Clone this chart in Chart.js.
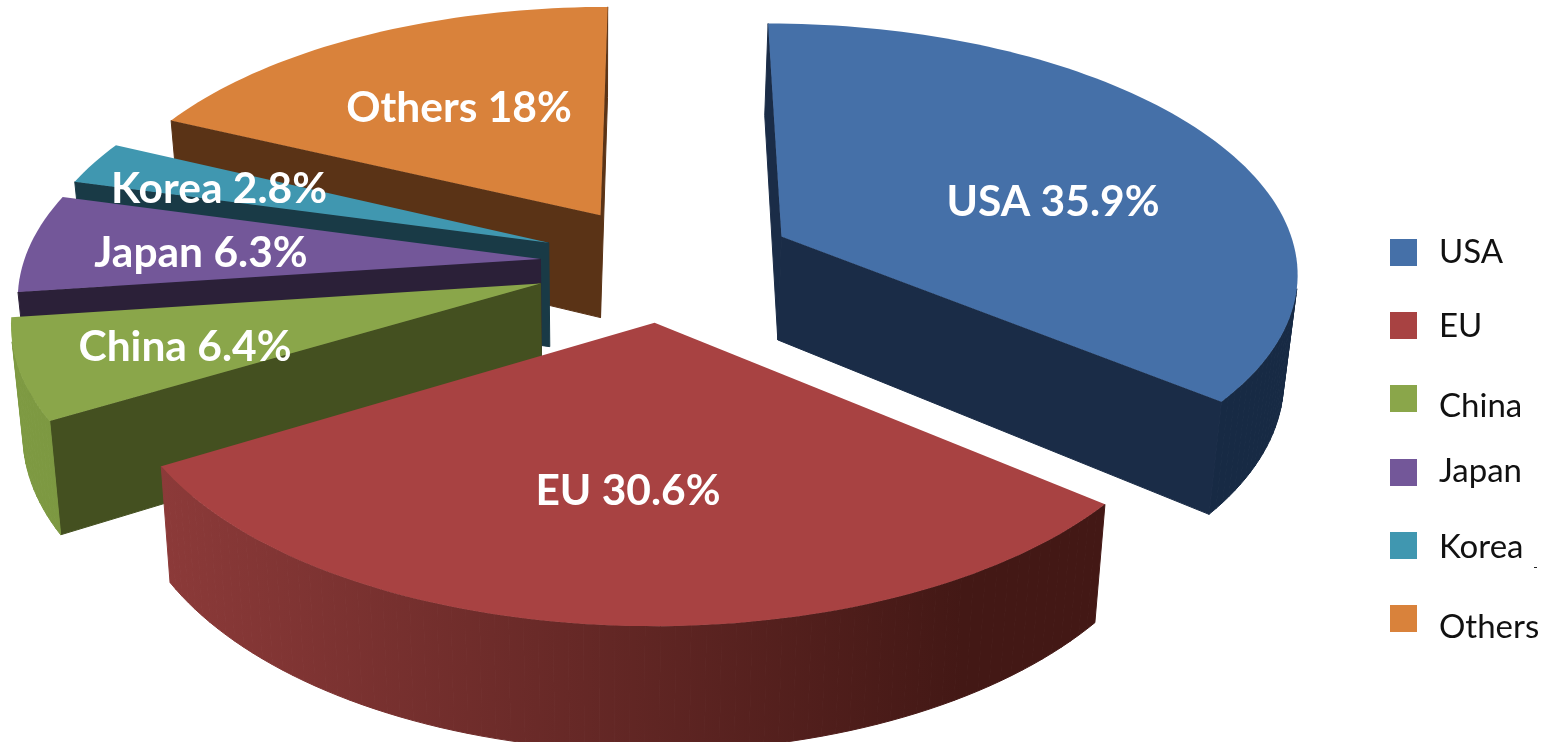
<!DOCTYPE html>
<html><head><meta charset="utf-8">
<style>html,body{margin:0;padding:0;background:#fff}canvas{display:block}</style>
<script src="https://cdn.jsdelivr.net/npm/chart.js@4"></script>
</head><body>
<canvas id="c" width="1547" height="742"></canvas>
<script>
const categories = ['USA','EU','China','Japan','Korea','Others'];
const shares = [35.9,30.6,6.4,6.3,2.8,18];
const sliceLabels = ['USA 35.9%','EU 30.6%','China 6.4%','Japan 6.3%','Korea 2.8%','Others 18%'];
const topColors = ['#4570A8','#A84242','#8AA64A','#735799','#4097B0','#D9823B'];
const rimLeft  = ['#1B2F4C','#8C3A39','#7E9A42','#2D2140','#1A3B47','#5A3316'];
const rimRight = ['#172A44','#431815','#6F8A3A','#261B36','#163A45','#55300F'];
const cutColors = ['#1A2C47','#6A2A28','#445020','#2B2038','#193A46','#5A3316'];
const explodeBy = [255,235,250,240,240,235];

const labelCenters = [[1053,202],[628,491],[185,347],[201,253],[219,189],[459,108]];
const swatchTop = [239,312,385,459,532,605];
const legendBaseline = [263,337,417,482,558,638];

const P = {cx:664, cy:263, A:517, B:247, p:0.13, depth:105, taper:0.98, taperX:600};
function project(u,v){
  const s = 1/(1-P.p*v);
  return {x:P.cx+P.A*u*s, y:P.cy+P.B*v*s, s};
}
function lower(pt){
  return {x:P.taperX+(pt.x-P.taperX)*P.taper, y:pt.y+P.depth*pt.s};
}
function outline(arc){
  const off=arc.options.offset/1000, mid=(arc.startAngle+arc.endAngle)/2;
  const ox=Math.cos(mid)*off, oy=Math.sin(mid)*off;
  const pts=[project(ox,oy)];
  const n=Math.max(8,Math.ceil((arc.endAngle-arc.startAngle)*40));
  for(let i=0;i<=n;i++){
    const a=arc.startAngle+(arc.endAngle-arc.startAngle)*i/n;
    pts.push(project(ox+Math.cos(a),oy+Math.sin(a)));
  }
  return pts;
}
function poly(ctx,pts){ctx.beginPath();pts.forEach((p,i)=>i?ctx.lineTo(p.x,p.y):ctx.moveTo(p.x,p.y));ctx.closePath();}
function area(pts){let s=0;pts.forEach((p,i)=>{const q=pts[(i+1)%pts.length];s+=p.x*q.y-q.x*p.y;});return s;}

const pie3d = {
  id:'pie3d',
  beforeDatasetsDraw(chart){
    const ctx=chart.ctx, arcs=chart.getDatasetMeta(0).data;
    const order=arcs.map((a,i)=>i).sort((i,j)=>{
      const mi=(arcs[i].startAngle+arcs[i].endAngle)/2, mj=(arcs[j].startAngle+arcs[j].endAngle)/2;
      return Math.sin(mi)-Math.sin(mj);
    });
    for(const i of order){
      const pts=outline(arcs[i]);
      const xs=pts.map(p=>p.x), x0=Math.min(...xs), x1=Math.max(...xs);
      const g=ctx.createLinearGradient(x0,0,x1,0);
      g.addColorStop(0,rimLeft[i]); g.addColorStop(.85,rimRight[i]); g.addColorStop(1,rimRight[i]);
      ctx.lineWidth=1;
      const last=pts.length-1;
      for(let k=0;k<pts.length;k++){
        const a=pts[k], b=pts[(k+1)%pts.length];
        const quad=[a,b,lower(b),lower(a)];
        if(area(quad)>=0) continue;
        const isCut=(k===0||k===last);
        ctx.fillStyle=ctx.strokeStyle=isCut?cutColors[i]:g;
        poly(ctx,quad); ctx.fill(); ctx.stroke();
      }
      poly(ctx,pts); ctx.fillStyle=topColors[i]; ctx.fill();
    }
    return false;
  },
  afterDraw(chart){
    const ctx=chart.ctx;
    ctx.save();
    ctx.textBaseline='middle'; ctx.textAlign='center';
    ctx.fillStyle='#fff'; ctx.font='bold 42.5px Lato';
    sliceLabels.forEach((t,i)=>ctx.fillText(t,labelCenters[i][0],labelCenters[i][1]));
    ctx.textAlign='left'; ctx.textBaseline='alphabetic'; ctx.font='33px Lato';
    categories.forEach((c,i)=>{
      ctx.fillStyle=topColors[i];
      ctx.fillRect(1390,swatchTop[i],27,27);
      ctx.fillStyle='#111';
      ctx.fillText(c,1439,legendBaseline[i]);
    });
    ctx.fillStyle='#222'; ctx.fillRect(1534,567,3,1);
    ctx.restore();
  }
};
new Chart(document.getElementById('c'),{
  type:'pie',
  data:{labels:categories,datasets:[{data:shares,backgroundColor:topColors,borderWidth:0,offset:explodeBy}]},
  options:{responsive:false,animation:false,rotation:0,
    plugins:{legend:{display:false},tooltip:{enabled:false}}},
  plugins:[pie3d]
});
</script>
</body></html>
